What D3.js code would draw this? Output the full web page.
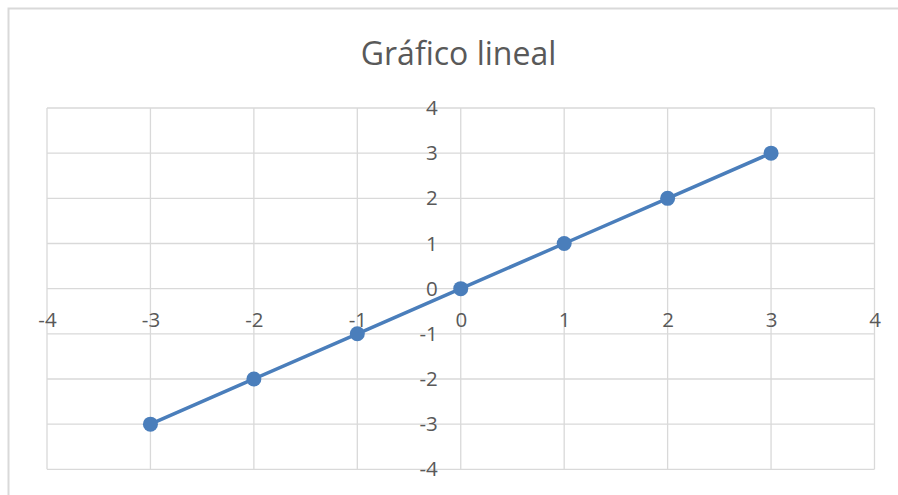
<!DOCTYPE html>
<html>
<head>
<meta charset="utf-8">
<script src="https://cdn.jsdelivr.net/npm/d3@7"></script>
<style>
  html, body { margin: 0; padding: 0; background: #fff; overflow: hidden; }
  svg { display: block; }
</style>
</head>
<body>
<svg id="chart" width="898" height="495"></svg>
<script>
const titleText = "Gráfico lineal";
const xValues = [-3, -2, -1, 0, 1, 2, 3];
const yValues = [-3, -2, -1, 0, 1, 2, 3];
const xTicks = [-4, -3, -2, -1, 0, 1, 2, 3, 4];
const yTicks = [-4, -3, -2, -1, 0, 1, 2, 3, 4];

const W = 898, H = 495;
const plot = { left: 47, right: 874.5, top: 108, bottom: 469.3 };
const textColor = "#595959";
const gridColor = "#d9d9d9";
const lineColor = "#4a7ebb";
const font = "'Open Sans', 'Noto Sans', sans-serif";

const svg = d3.select("#chart");
svg.append("rect").attr("width", W).attr("height", H).attr("fill", "#fff");

// outer chart border (only top & left visible)
svg.append("rect")
  .attr("x", 8.5).attr("y", 8.5)
  .attr("width", 1000).attr("height", 1000)
  .attr("fill", "none").attr("stroke", gridColor).attr("stroke-width", 2);

const x = d3.scaleLinear().domain([-4, 4]).range([plot.left, plot.right]);
const y = d3.scaleLinear().domain([-4, 4]).range([plot.bottom, plot.top]);

// gridlines
const g = svg.append("g");
g.selectAll("line.vx").data(xTicks).join("line")
  .attr("x1", d => x(d)).attr("x2", d => x(d))
  .attr("y1", plot.top).attr("y2", plot.bottom)
  .attr("stroke", gridColor).attr("stroke-width", 1.3);
g.selectAll("line.hy").data(yTicks).join("line")
  .attr("y1", d => y(d)).attr("y2", d => y(d))
  .attr("x1", plot.left).attr("x2", plot.right)
  .attr("stroke", gridColor).attr("stroke-width", 1.3);

// axes crossing at 0
const xAxis = d3.axisBottom(x).tickValues(xTicks).tickSize(0).tickPadding(24).tickFormat(d3.format("d"));
const yAxis = d3.axisLeft(y).tickValues(yTicks).tickSize(0).tickPadding(23).tickFormat(d3.format("d"));

const gx = svg.append("g").attr("transform", `translate(0,${y(0)})`).call(xAxis);
const gy = svg.append("g").attr("transform", `translate(${x(0)},0)`).call(yAxis);
[gx, gy].forEach(a => {
  a.select(".domain").remove();
  a.selectAll("text")
    .attr("fill", textColor)
    .style("font-family", font)
    .style("font-size", "20.5px");
});
svg.selectAll(".tick text").text(function() { return this.textContent.replace("−", "-"); });

// line
const pts = xValues.map((v, i) => [v, yValues[i]]);
svg.append("path")
  .datum(pts)
  .attr("d", d3.line().x(d => x(d[0])).y(d => y(d[1])))
  .attr("fill", "none")
  .attr("stroke", lineColor)
  .attr("stroke-width", 3.5)
  .attr("stroke-linecap", "round");

svg.selectAll("circle.pt").data(pts).join("circle")
  .attr("cx", d => x(d[0])).attr("cy", d => y(d[1]))
  .attr("r", 7.5)
  .attr("fill", lineColor);

// title
svg.append("text")
  .attr("x", 458.5).attr("y", 65)
  .attr("text-anchor", "middle")
  .attr("fill", textColor)
  .style("font-family", font)
  .style("font-size", "32px")
  .text(titleText);
</script>
</body>
</html>
